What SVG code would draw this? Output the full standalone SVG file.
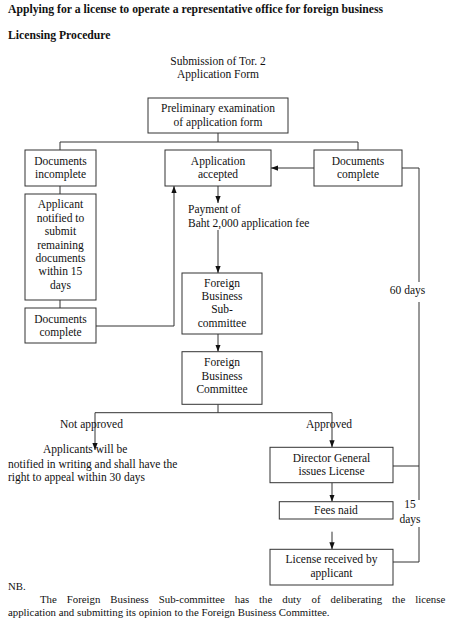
<svg xmlns="http://www.w3.org/2000/svg" width="455" height="623" viewBox="0 0 455 623">
<style>
text{font-family:"Liberation Serif","Times New Roman",serif;font-size:11.5px;fill:#111}
.b{font-weight:bold;font-size:11.7px}
.c{text-anchor:middle}
.n{font-size:10.8px}
.box{fill:#fff;stroke:#333;stroke-width:1}
.ln{fill:none;stroke:#333;stroke-width:1}
</style>
<defs>
<marker id="ah" viewBox="0 0 8 6" refX="8" refY="3" markerWidth="7" markerHeight="6" markerUnits="userSpaceOnUse" orient="auto">
<path d="M0,0 L8,3 L0,6 z" fill="#111"/>
</marker>
</defs>
<rect width="455" height="623" fill="#fff"/>
<text class="b" x="8" y="13">Applying for a license to operate a representative office for foreign business</text>
<text class="b" x="8" y="39">Licensing Procedure</text>
<g id="submission"><text class="c" x="218" y="65">Submission of Tor. 2</text><text class="c" x="218" y="78">Application Form</text></g>

<g id="connectors">
<path class="ln" d="M218,133 V142 M60,150 V142 H358 V150"/>
<path class="ln" d="M60,186 V194 M60,300 V308"/>
<path class="ln" d="M96,326 H174 V186" marker-end="url(#ah)"/>
<path class="ln" d="M314,168 H271" marker-end="url(#ah)"/>
<path class="ln" d="M218,186 V203" marker-end="url(#ah)"/>
<path class="ln" d="M218,230 V273" marker-end="url(#ah)"/>
<path class="ln" d="M218,334 V351.7" marker-end="url(#ah)"/>
<path class="ln" d="M218,404.3 V412.7 H95 V450" marker-end="url(#ah)"/>
<path class="ln" d="M218,412.7 H332 V447.3" marker-end="url(#ah)"/>
<path class="ln" d="M332,482.7 V501.7" marker-end="url(#ah)"/>
<path class="ln" d="M332,531.7 V549.3" marker-end="url(#ah)"/>
<path class="ln" d="M402,168 H419 V282 M419,302 V500 M393,466 H419 M419,527 V562 H393"/>
</g>

<g id="prelim"><rect class="box" x="148" y="98" width="140" height="35"/><text class="c" x="218" y="112">Preliminary examination</text><text class="c" x="218" y="125.5">of application form</text></g>
<g id="docs-incomplete"><rect class="box" x="25" y="150" width="71" height="36"/><text class="c" x="60.5" y="165">Documents</text><text class="c" x="60.5" y="178">incomplete</text></g>
<g id="applicant-notified"><rect class="box" x="25" y="194" width="71" height="106"/>
<text class="c" x="60.5" y="208">Applicant</text><text class="c" x="60.5" y="221.5">notified to</text><text class="c" x="60.5" y="235">submit</text><text class="c" x="60.5" y="248.5">remaining</text><text class="c" x="60.5" y="262">documents</text><text class="c" x="60.5" y="275">within 15</text><text class="c" x="60.5" y="288.5">days</text></g>
<g id="docs-complete-left"><rect class="box" x="25" y="308" width="71" height="35"/><text class="c" x="60.5" y="322.5">Documents</text><text class="c" x="60.5" y="336">complete</text></g>
<g id="app-accepted"><rect class="box" x="165" y="150" width="106" height="36"/><text class="c" x="218" y="165">Application</text><text class="c" x="218" y="178">accepted</text></g>
<g id="docs-complete-right"><rect class="box" x="314" y="150" width="88" height="36"/><text class="c" x="358" y="165">Documents</text><text class="c" x="358" y="178">complete</text></g>
<g id="payment"><text x="188" y="213.3">Payment of</text><text x="188" y="226.7">Baht 2,000 application fee</text></g>
<g id="subcommittee"><rect class="box" x="182" y="273" width="80" height="61"/><text class="c" x="222" y="286.7">Foreign</text><text class="c" x="222" y="300">Business</text><text class="c" x="222" y="313.3">Sub-</text><text class="c" x="222" y="326.7">committee</text></g>
<g id="committee"><rect class="box" x="182" y="351.7" width="80" height="52.6"/><text class="c" x="222" y="366">Foreign</text><text class="c" x="222" y="379.5">Business</text><text class="c" x="222" y="393.3">Committee</text></g>
<g id="not-approved"><text class="c" x="91.5" y="428">Not approved</text>
<text x="43" y="453.3">Applicants will be</text><text x="8" y="468.3">notified in writing and shall have the</text><text x="8" y="481">right to appeal within 30 days</text></g>
<g id="approved"><text class="c" x="329" y="428">Approved</text></g>
<g id="director"><rect class="box" x="270" y="447.3" width="123" height="35.4"/><text class="c" x="331.5" y="461.7">Director General</text><text class="c" x="331.5" y="475">issues License</text></g>
<g id="fees"><rect class="box" x="279.3" y="501.7" width="113.7" height="17.3"/><text class="c" x="336" y="514.3">Fees naid</text></g>
<g id="license-received"><rect class="box" x="270" y="549.3" width="123" height="35.7"/><text class="c" x="331.5" y="563.3">License received by</text><text class="c" x="331.5" y="576.7">applicant</text></g>
<g id="labels"><text class="c" x="407.5" y="293.5">60 days</text><text class="c" x="410" y="508">15</text><text class="c" x="410" y="522.5">days</text></g>
<g id="note"><text class="n" x="8" y="590">NB.</text>
<text class="n" x="40" y="603.3" word-spacing="7.3">The Foreign Business Sub-committee has the duty of deliberating the license</text>
<text class="n" x="8" y="615.5">application and submitting its opinion to the Foreign Business Committee.</text></g>
</svg>
